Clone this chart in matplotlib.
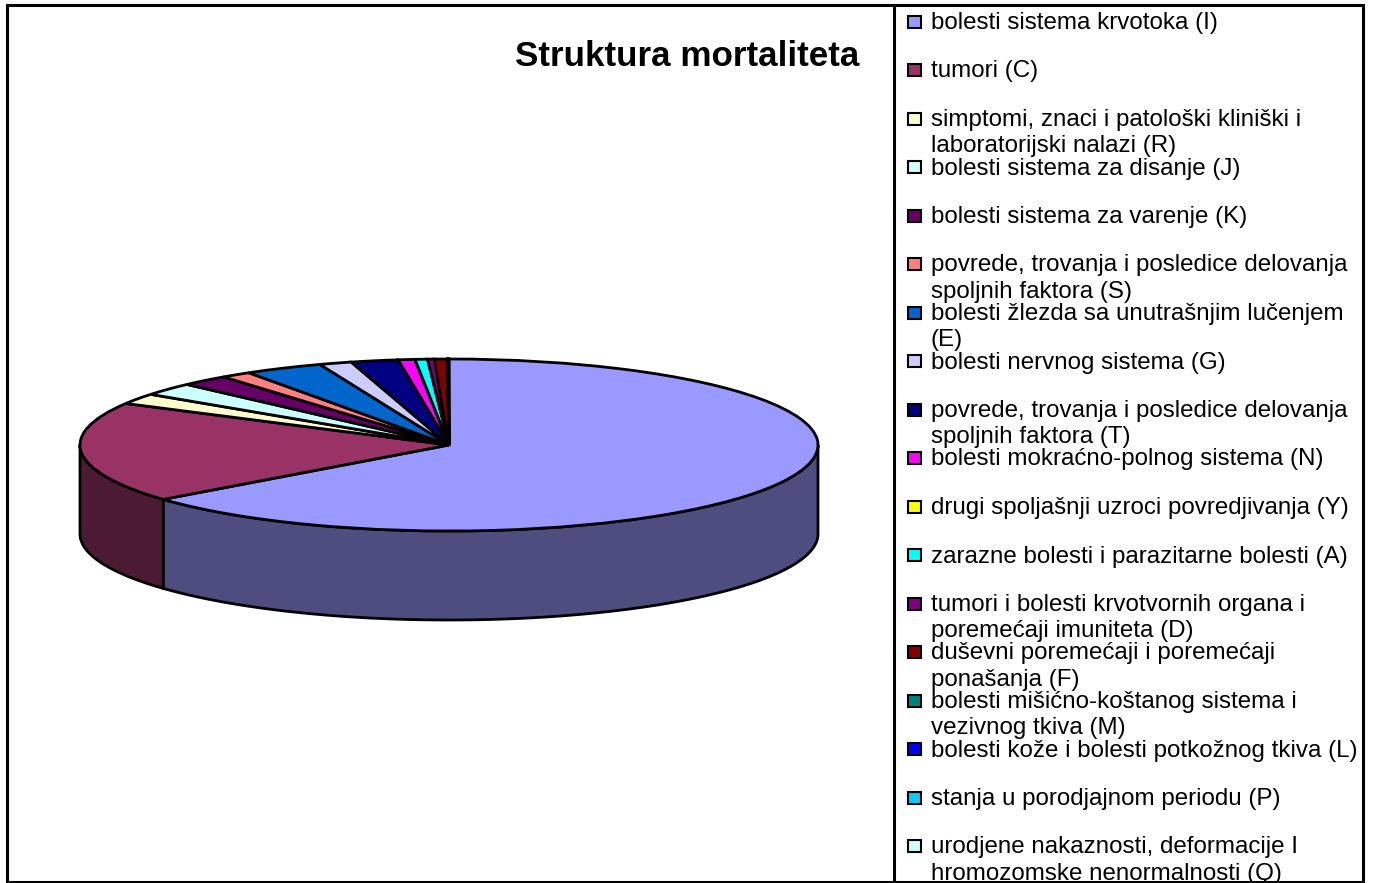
import numpy as np
import matplotlib
matplotlib.use("Agg")
import matplotlib.pyplot as plt
from matplotlib.colors import to_rgb
from matplotlib.patches import Rectangle

plt.rcParams['font.family'] = ['Liberation Sans', 'DejaVu Sans']

title = "Struktura mortaliteta"
categories = [
    "bolesti sistema krvotoka (I)",
    "tumori (C)",
    "simptomi, znaci i patološki kliniški i\nlaboratorijski nalazi (R)",
    "bolesti sistema za disanje (J)",
    "bolesti sistema za varenje (K)",
    "povrede, trovanja i posledice delovanja\nspoljnih faktora (S)",
    "bolesti žlezda sa unutrašnjim lučenjem\n(E)",
    "bolesti nervnog sistema (G)",
    "povrede, trovanja i posledice delovanja\nspoljnih faktora (T)",
    "bolesti mokraćno-polnog sistema (N)",
    "drugi spoljašnji uzroci povredjivanja (Y)",
    "zarazne bolesti i parazitarne bolesti (A)",
    "tumori i bolesti krvotvornih organa i\nporemećaji imuniteta (D)",
    "duševni poremećaji i poremećaji\nponašanja (F)",
    "bolesti mišićno-koštanog sistema i\nvezivnog tkiva (M)",
    "bolesti kože i bolesti potkožnog tkiva (L)",
    "stanja u porodjajnom periodu (P)",
    "urodjene nakaznosti, deformacije I\nhromozomske nenormalnosti (Q)",
]
values = [64.10, 18.92, 2.00, 2.41, 2.11, 1.33, 3.44, 1.42, 2.07, 0.72,
          0.01, 0.54, 0.29, 0.56, 0.03, 0.02, 0.01, 0.02]
colors = ["#9999FF", "#993366", "#FFFFCC", "#CCFFFF", "#660066", "#FF8080",
          "#0066CC", "#CCCCFF", "#000080", "#FF00FF", "#FFFF00", "#00FFFF",
          "#800080", "#800000", "#008080", "#0000FF", "#00CCFF", "#CCFFFF"]

W, H = 1373, 883
fig = plt.figure(figsize=(W / 100, H / 100), dpi=100, facecolor="white")

# Pie axes: unit circle squashed into the perspective ellipse
cx, cy, rx, ry, depth_px = 449, 445, 369, 86, 89
ax = fig.add_axes([0, 0, 1, 1])
wedges, _ = ax.pie(values, colors=colors, startangle=90, counterclock=False,
                   radius=1, wedgeprops=dict(edgecolor="black", linewidth=2.0))
ax.set_aspect("auto")
ax.set_xlim((0 - cx) / rx, (W - cx) / rx)
ax.set_ylim((cy - H) / ry, (cy - 0) / ry)
depth = depth_px / ry

# Side wall, drawn from each wedge's angular range on the front half
for w, c in zip(wedges, colors):
    a1, a2 = w.theta1 % 360, w.theta2 % 360
    if a2 <= a1:
        a2 += 360
    lo, hi = max(a1, 180), min(a2, 360)
    if hi <= lo:
        continue
    t = np.radians(np.linspace(lo, hi, 200))
    xs = np.r_[np.cos(t), np.cos(t[::-1])]
    ys = np.r_[np.sin(t), np.sin(t[::-1]) - depth]
    ax.fill(xs, ys, facecolor=tuple(v * 0.5 for v in to_rgb(c)), edgecolor="black",
            linewidth=2.0, zorder=0.5, joinstyle="round")

# Overlay in pixel coordinates: frame, title, legend
ov = fig.add_axes([0, 0, 1, 1], facecolor="none")
ov.set_xlim(0, W)
ov.set_ylim(H, 0)
ov.axis("off")

frame = Rectangle((7, 5), 1356, 877, fill=False, edgecolor="black", linewidth=2.2)
ov.add_patch(frame)
ov.plot([894, 894], [5, 882], color="black", linewidth=2.2, solid_capstyle="butt")

ov.text(859, 56, title, ha="right", va="center", fontsize=25.2, fontweight="bold", color="black")

y0, step = 21, 48.5
for i, (lab, c) in enumerate(zip(categories, colors)):
    y = y0 + i * step
    ov.add_patch(Rectangle((908, y - 5.5), 13, 12, facecolor=c, edgecolor="black", linewidth=1.5))
    t = ov.text(931, y - 9, lab, ha="left", va="top", fontsize=17.4, color="black",
                linespacing=1.25)
    t.set_clip_path(frame)

fig.savefig("out.png", dpi=100)
